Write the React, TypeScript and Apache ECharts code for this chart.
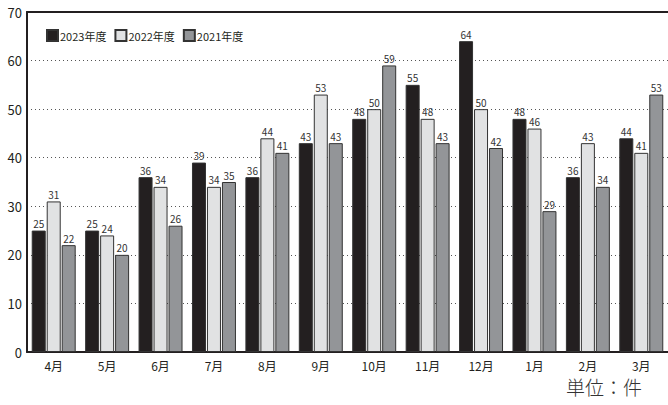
import React, { useEffect, useRef } from "react";
import * as echarts from "echarts";

const categories = ["4月", "5月", "6月", "7月", "8月", "9月", "10月", "11月", "12月", "1月", "2月", "3月"];
const seriesNames = ["2023年度", "2022年度", "2021年度"];
const values2023 = [25, 25, 36, 39, 36, 43, 48, 55, 64, 48, 36, 44];
const values2022 = [31, 24, 34, 34, 44, 53, 50, 48, 50, 46, 43, 41];
const values2021 = [22, 20, 26, 35, 41, 43, 59, 43, 42, 29, 34, 53];
const colors = ["#231f20", "#e1e2e3", "#939598"];
const unitText = "単位：件";

const FONT = '"Noto Sans CJK JP", "Noto Sans", sans-serif';

export default function App() {
  const ref = useRef<HTMLDivElement>(null);
  useEffect(() => {
    document.body.style.margin = "0";
    const chart = echarts.init(ref.current!, null, { renderer: "svg" });
    const data = [values2023, values2022, values2021];
    chart.setOption({
      animation: false,
      backgroundColor: "#ffffff",
      textStyle: { fontFamily: FONT },
      grid: { left: 27, right: 0, top: 12, bottom: 53, containLabel: false },
      legend: {
        left: 41,
        top: 24,
        itemWidth: 11,
        itemHeight: 11,
        itemGap: 8,
        icon: "rect",
        textStyle: { fontSize: 11, color: "#231f20", padding: [0, 0, 0, -3] },
        data: seriesNames,
      },
      xAxis: [
        {
          type: "category",
          data: categories,
          axisLine: { lineStyle: { color: "#231f20", width: 2 } },
          axisTick: { show: false },
          axisLabel: { fontSize: 12, color: "#231f20", margin: 7 },
        },
        {
          type: "category",
          position: "top",
          data: categories,
          axisLine: { lineStyle: { color: "#231f20", width: 2 } },
          axisTick: { show: false },
          axisLabel: { show: false },
        },
      ],
      yAxis: {
        type: "value",
        min: 0,
        max: 70,
        interval: 10,
        axisLine: { show: true, lineStyle: { color: "#231f20", width: 2 } },
        axisTick: { show: false },
        axisLabel: { fontSize: 13, color: "#231f20", margin: 5 },
        splitLine: { lineStyle: { color: "#555", type: [1, 3], width: 1 } },
      },
      series: seriesNames.map((name, i) => ({
        name,
        type: "bar",
        data: data[i],
        barWidth: 14,
        barGap: "7%",
        itemStyle: { color: colors[i], borderColor: "#333", borderWidth: 1 },
        label: {
          show: true,
          position: "top",
          distance: 2,
          fontSize: 10,
          color: "#333",
        },
      })),
      graphic: [
        {
          type: "text",
          left: 566,
          top: 377,
          style: { text: unitText, fontSize: 19, fontWeight: 300, fill: "#333", fontFamily: FONT },
        },
      ],
    });
    return () => chart.dispose();
  }, []);
  return <div ref={ref} style={{ width: 668, height: 405 }} />;
}
